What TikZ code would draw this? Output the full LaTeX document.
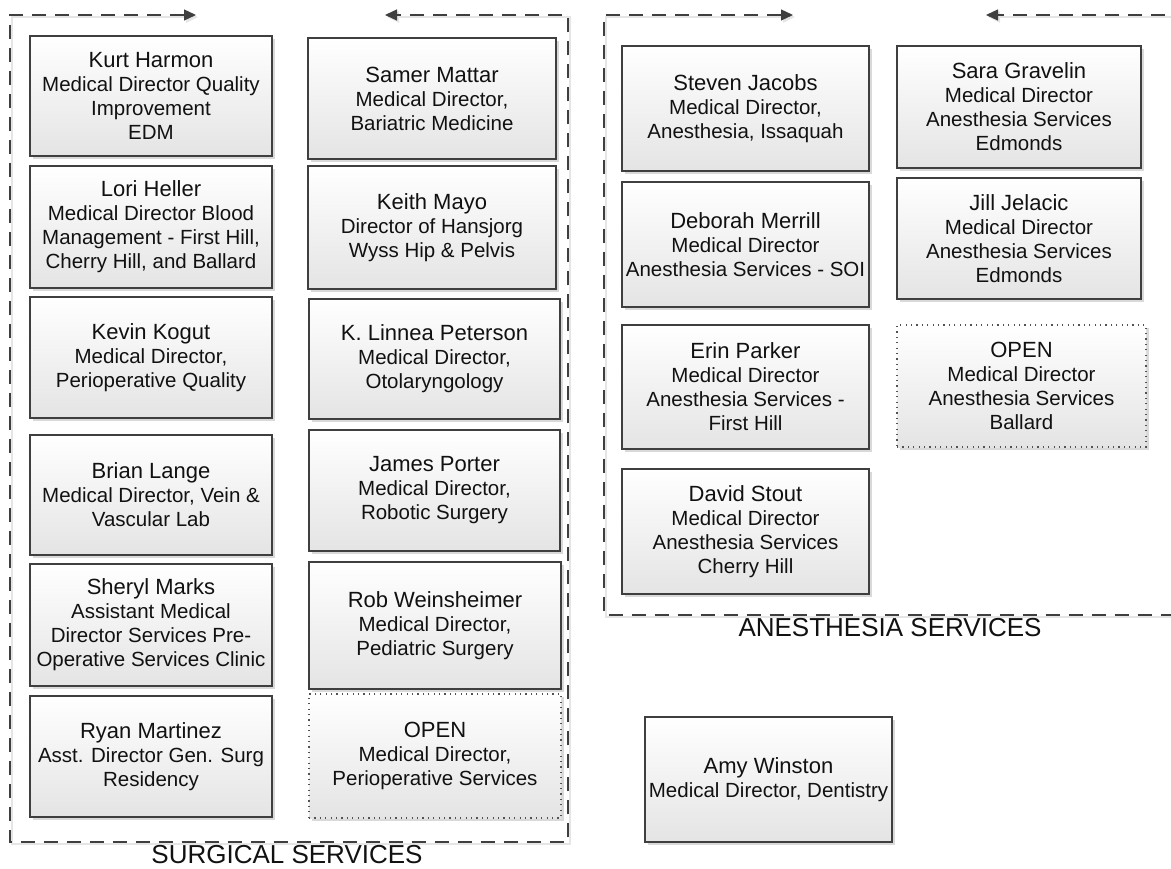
\documentclass[tikz,border=0pt]{standalone}
\usepackage{fontspec}
\setmainfont{Liberation Sans}
\usetikzlibrary{arrows.meta,shadows}
\definecolor{edge}{HTML}{3F3F3F}
\definecolor{botfill}{HTML}{E4E4E4}
\definecolor{txt}{HTML}{111111}
\newcommand{\nm}[1]{{\fontsize{22}{24}\selectfont #1}}
\tikzset{
  person/.style={draw=edge, line width=1.3pt, top color=white, bottom color=botfill,
    drop shadow={shadow xshift=3pt, shadow yshift=-3pt, fill=black, opacity=0.15},
    align=center, text=txt, inner sep=0pt,
    font=\fontsize{20.5}{24}\selectfont},
  vacant/.style={person, draw=edge!90, line width=1.1pt, dash pattern=on 1.2pt off 4.2pt},
  container/.style={draw=edge, line width=1.3pt, dash pattern=on 14pt off 9pt,
    {Triangle[length=12pt,width=11pt]}-{Triangle[length=12pt,width=11pt]},
    preaction={draw=black!10, line width=2.5pt, transform canvas={shift={(2pt,-2pt)}}}},
  grouplabel/.style={text=txt, font=\fontsize{26}{30}\selectfont, inner sep=0pt}
}
% box from (x1,y1) to (x2,y2) in pixel coords
\newcommand{\pbox}[7]{%
  \node[#1, minimum width=#5pt-#3pt, minimum height=#6pt-#4pt] (#2)
    at ({(#3+#5)/2},{(#4+#6)/2}) {#7};}
\begin{document}
\begin{tikzpicture}[x=1pt, y=-1pt]
\useasboundingbox (0,0) rectangle (1171,869);
\clip (0,0) rectangle (1171,869);

% containers
\coordinate (s-tip1) at (196,15);
\coordinate (s-tl) at (10,15);
\coordinate (s-bl) at (10,842);
\coordinate (s-br) at (568,842);
\coordinate (s-tr) at (568,15);
\coordinate (s-tip2) at (385,15);
\draw[container] (s-tip1) -- (s-tl) -- (s-bl) -- (s-br) -- (s-tr) -- (s-tip2);

\coordinate (a-tip1) at (793,15);
\coordinate (a-tl) at (604,15);
\coordinate (a-bl) at (604,615);
\coordinate (a-br) at (1185,615);
\coordinate (a-tr) at (1185,15);
\coordinate (a-tip2) at (986,15);
\draw[container] (a-tip1) -- (a-tl) -- (a-bl) -- (a-br) -- (a-tr) -- (a-tip2);

% surgical services, left column
\pbox{person}{kh}{30}{36}{272}{156}{\nm{Kurt Harmon}\\Medical Director Quality\\Improvement\\EDM}
\pbox{person}{lh}{30}{166}{272}{288}{\nm{Lori Heller}\\Medical Director Blood\\Management - First Hill,\\Cherry Hill, and Ballard}
\pbox{person}{kk}{30}{297}{272}{418}{\nm{Kevin Kogut}\\Medical Director,\\Perioperative Quality}
\pbox{person}{bl}{30}{435}{272}{555}{\nm{Brian Lange}\\Medical Director, Vein \&\\Vascular Lab}
\pbox{person}{sm}{30}{564}{272}{686}{\nm{Sheryl Marks}\\Assistant Medical\\Director Services Pre-\\Operative Services Clinic}
\pbox{person}{rm}{30}{696}{272}{817}{\nm{Ryan Martinez}\\Asst. Director Gen. Surg\\Residency}

% surgical services, right column
\pbox{person}{smt}{308}{38}{556}{159}{\nm{Samer Mattar}\\Medical Director,\\Bariatric Medicine}
\pbox{person}{kmy}{308}{166}{556}{289}{\nm{Keith Mayo}\\Director of Hansjorg\\Wyss Hip \& Pelvis}
\pbox{person}{klp}{309}{299}{560}{419}{\nm{K. Linnea Peterson}\\Medical Director,\\Otolaryngology}
\pbox{person}{jp}{309}{430}{560}{551}{\nm{James Porter}\\Medical Director,\\Robotic Surgery}
\pbox{person}{rw}{309}{562}{561}{689}{\nm{Rob Weinsheimer}\\Medical Director,\\Pediatric Surgery}
\pbox{vacant}{op1}{309}{694}{561}{818}{\nm{OPEN}\\Medical Director,\\Perioperative Services}

% anesthesia services
\pbox{person}{sj}{622}{46}{869}{171}{\nm{Steven Jacobs}\\Medical Director,\\Anesthesia, Issaquah}
\pbox{person}{dm}{622}{182}{869}{307}{\nm{Deborah Merrill}\\Medical Director\\Anesthesia Services - SOI}
\pbox{person}{ep}{622}{325}{869}{449}{\nm{Erin Parker}\\Medical Director\\Anesthesia Services -\\First Hill}
\pbox{person}{ds}{622}{469}{869}{594}{\nm{David Stout}\\Medical Director\\Anesthesia Services\\Cherry Hill}
\pbox{person}{sg}{897}{46}{1141}{168}{\nm{Sara Gravelin}\\Medical Director\\Anesthesia Services\\Edmonds}
\pbox{person}{jj}{897}{178}{1141}{299}{\nm{Jill Jelacic}\\Medical Director\\Anesthesia Services\\Edmonds}
\pbox{vacant}{op2}{897}{325}{1146}{447}{\nm{OPEN}\\Medical Director\\Anesthesia Services\\Ballard}

% dentistry
\pbox{person}{aw}{645}{717}{892}{842}{\nm{Amy Winston}\\Medical Director, Dentistry}

% group labels
\node[grouplabel] (surg) at (287,855) {SURGICAL SERVICES};
\node[grouplabel] (anes) at (890,628) {ANESTHESIA SERVICES};
\end{tikzpicture}
\end{document}
